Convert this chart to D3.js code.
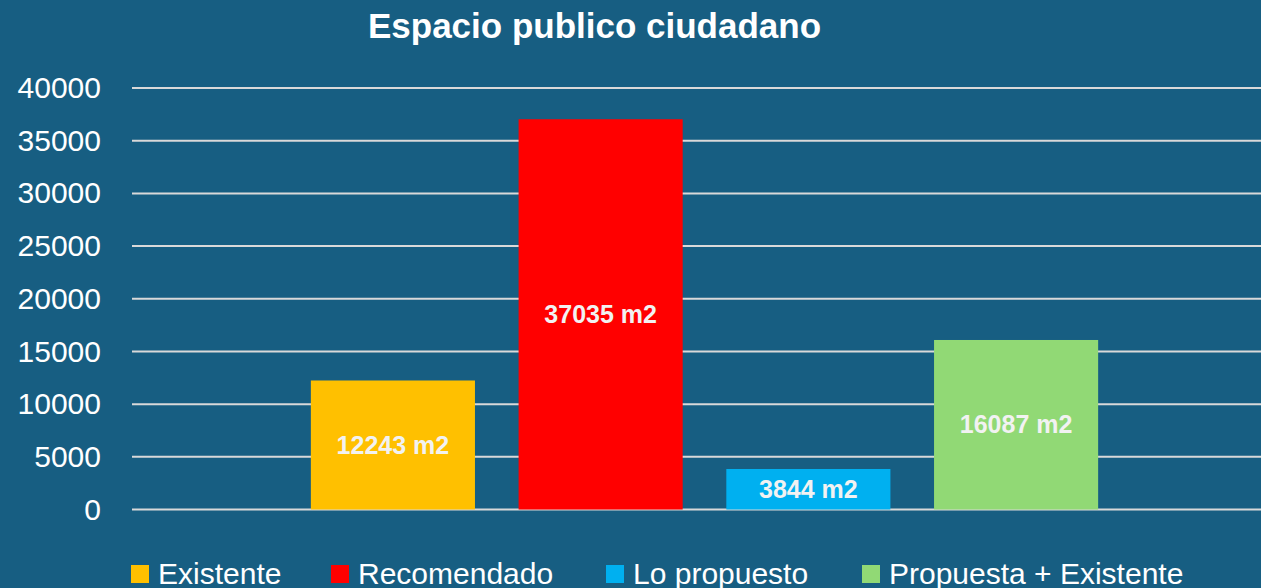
<!DOCTYPE html>
<html>
<head>
<meta charset="utf-8">
<script src="https://cdn.jsdelivr.net/npm/d3@7"></script>
<style>
  html, body { margin: 0; padding: 0; background: #175E82; }
  svg { display: block; font-family: "Liberation Sans", Arial, sans-serif; }
</style>
</head>
<body>
<svg id="chart" width="1261" height="588"></svg>
<script>
var TITLE = 'Espacio publico ciudadano';
var categories = [''];
var series = ['Existente', 'Recomendado', 'Lo propuesto', 'Propuesta + Existente'];
var values = [12243, 37035, 3844, 16087];
var colors = ['#FFC000', '#FF0000', '#00B0F0', '#91D975'];
var yTicks = [0, 5000, 10000, 15000, 20000, 25000, 30000, 35000, 40000];

var W = 1261, H = 588;
var svg = d3.select('#chart');

svg.append('rect').attr('width', W).attr('height', H).attr('fill', '#175E82');

// plot area
var plotL = 132, plotR = 1277, plotT = 88, plotB = 509.5;

var y = d3.scaleLinear().domain([0, 40000]).range([plotB, plotT]);

var x0 = d3.scaleBand().domain(categories).range([plotL, plotR]).paddingOuter(0.189);
var x1 = d3.scaleBand().domain(series).range([0, x0.bandwidth()])
	.paddingInner(0.21).paddingOuter(0.105);

// gridlines
svg.append('g').selectAll('line').data(yTicks).enter().append('line')
	.attr('x1', plotL).attr('x2', W)
	.attr('y1', function (d) { return y(d); })
	.attr('y2', function (d) { return y(d); })
	.attr('stroke', '#D9D9D9').attr('stroke-width', 2);

// y axis labels
var yAxis = d3.axisLeft(y).tickValues(yTicks).tickFormat(d3.format('d')).tickSize(0).tickPadding(0);
var ya = svg.append('g').attr('transform', 'translate(101,0)').call(yAxis);
ya.select('.domain').remove();
ya.selectAll('text')
	.attr('fill', '#FFFFFF')
	.style('font-size', '30px')
	.style('font-family', '"Liberation Sans", Arial, sans-serif');

// bars
var g = svg.append('g').selectAll('g').data(categories).enter().append('g')
	.attr('transform', function (d) { return 'translate(' + x0(d) + ',0)'; });

g.selectAll('rect').data(series).enter().append('rect')
	.attr('x', function (d) { return x1(d); })
	.attr('y', function (d, i) { return y(values[i]); })
	.attr('width', x1.bandwidth())
	.attr('height', function (d, i) { return y(0) - y(values[i]); })
	.attr('fill', function (d, i) { return colors[i]; });

// value labels, centered in bar
g.selectAll('text.val').data(series).enter().append('text')
	.attr('class', 'val')
	.attr('x', function (d) { return x1(d) + x1.bandwidth() / 2; })
	.attr('y', function (d, i) { return (y(values[i]) + y(0)) / 2; })
	.attr('dy', '0.35em')
	.attr('text-anchor', 'middle')
	.attr('fill', '#F2F2F2')
	.style('font-size', '25px')
	.style('font-weight', 'bold')
	.text(function (d, i) { return values[i] + ' m2'; });

// title
svg.append('text')
	.attr('x', 594.5).attr('y', 38)
	.attr('text-anchor', 'middle')
	.attr('fill', '#FFFFFF')
	.style('font-size', '35px')
	.style('font-weight', 'bold')
	.text(TITLE);

// legend
var legendX = [131, 331, 606, 862];
var lg = svg.append('g').selectAll('g').data(series).enter().append('g')
	.attr('transform', function (d, i) { return 'translate(' + legendX[i] + ',565)'; });
lg.append('rect').attr('width', 18).attr('height', 18)
	.attr('fill', function (d, i) { return colors[i]; });
lg.append('text').attr('x', 27).attr('y', 18.5)
	.attr('fill', '#FFFFFF')
	.style('font-size', '30px')
	.text(function (d) { return d; });
</script>
</body>
</html>
